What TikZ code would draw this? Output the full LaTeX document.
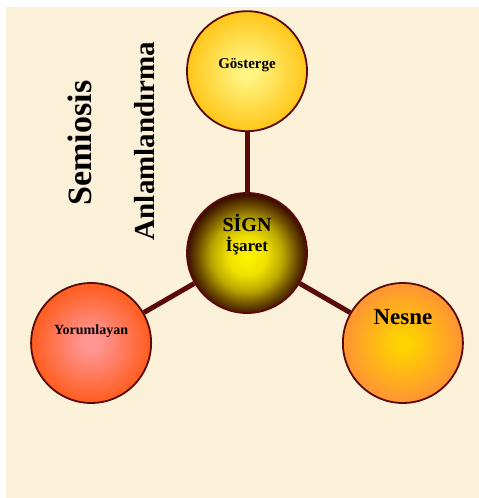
\documentclass[tikz,border=0pt]{standalone}
\usepackage{fontspec}
\setmainfont{Liberation Serif}
\usetikzlibrary{positioning}
\definecolor{paper}{RGB}{251,240,216}
\definecolor{rim}{RGB}{90,10,10}
\definecolor{gosIn}{RGB}{255,245,130}
\definecolor{gosOut}{RGB}{255,200,30}
\definecolor{signA}{RGB}{255,245,0}
\definecolor{signB}{RGB}{240,225,0}
\definecolor{signC}{RGB}{185,165,0}
\definecolor{signD}{RGB}{110,80,0}
\definecolor{signE}{RGB}{60,15,0}
\definecolor{yorIn}{RGB}{255,150,150}
\definecolor{yorOut}{RGB}{255,95,35}
\definecolor{nesIn}{RGB}{255,210,0}
\definecolor{nesOut}{RGB}{255,150,50}
\makeatletter
\pgfdeclareradialshading[tikz@radial@inner,tikz@radial@outer]{orbshade}{\pgfpoint{0bp}{0bp}}{color(0bp)=(tikz@radial@inner); color(3bp)=(tikz@radial@inner); color(24bp)=(tikz@radial@outer); color(50bp)=(tikz@radial@outer)}
\makeatother
\pgfdeclareradialshading{signshade}{\pgfpoint{0bp}{-1.5bp}}{color(0bp)=(signA); color(8bp)=(signB); color(15bp)=(signC); color(20.5bp)=(signD); color(25bp)=(signE); color(50bp)=(signE)}

\begin{document}
\begin{tikzpicture}[
    x=1pt, y=1pt,
    node distance=60pt,
    orbbase/.style={circle, draw=rim, line width=1.8pt, minimum size=120pt, inner sep=0pt},
    orb/.style 2 args={orbbase, inner color=#1, outer color=#2, shading=orbshade},
    lbl/.style={inner sep=0pt, text=black, align=center},
    link/.style={draw=rim, line width=5pt}
]
\useasboundingbox (0,0) rectangle (479,498);
\fill [paper] (6,0) rectangle (479,491);
% Circles
\node (sign) [orbbase, shading=signshade] at (247,245) {};
\node (goster) [orb={gosIn}{gosOut}, above=of sign] {};
\node (yorum) [orb={yorIn}{yorOut}] at ([shift={(210:180pt)}]sign) {};
\node (nesne) [orb={nesIn}{nesOut}] at ([shift={(-30:180pt)}]sign) {};
% Links
\draw [link] (sign) -- (goster);
\draw [link] (sign) -- (yorum);
\draw [link] (sign) -- (nesne);
% Labels
\node (signText) [lbl, font=\fontsize{18}{20}\selectfont\bfseries] at ([yshift=18pt]sign) {{\fontsize{20}{20}\selectfont SİGN}\\{\fontsize{17}{20}\selectfont İşaret}};
\node (gosterText) [lbl, font=\fontsize{15}{15}\selectfont\bfseries] at ([yshift=6pt]goster) {Gösterge};
\node (yorumText) [lbl, font=\fontsize{14}{14}\selectfont\bfseries] at ([yshift=12pt]yorum) {Yorumlayan};
\node (nesneText) [lbl, font=\fontsize{23}{23}\selectfont\bfseries] at ([yshift=26pt]nesne) {Nesne};
\node (semiosis) [lbl, rotate=90, font=\fontsize{34}{34}\selectfont\bfseries] at (80,355) {Semiosis};
\node (anlam) [lbl, rotate=90, font=\fontsize{29}{29}\selectfont\bfseries] at (145,357) {Anlamlandırma};
\end{tikzpicture}
\end{document}
